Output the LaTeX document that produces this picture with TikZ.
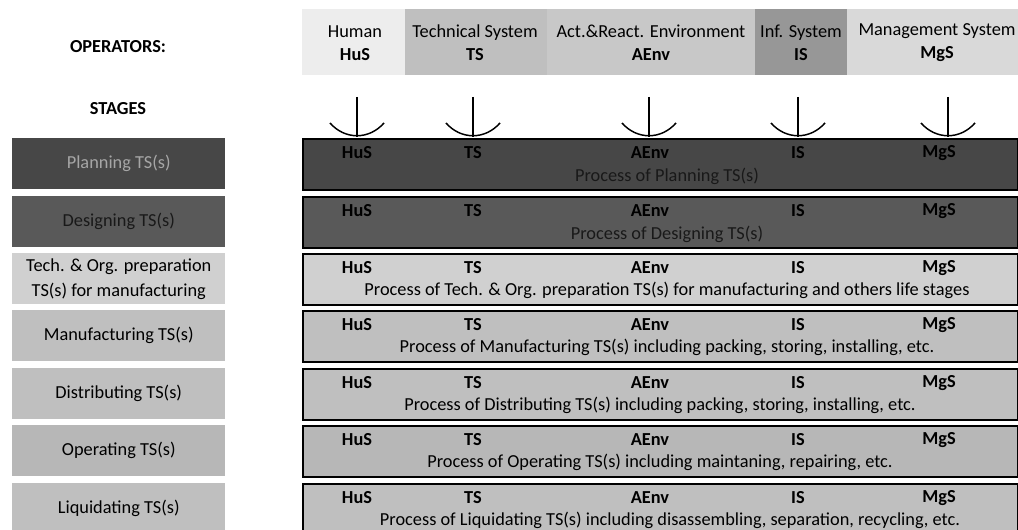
\documentclass[tikz,border=0pt]{standalone}
\usepackage{fontspec}
\setmainfont{Carlito}
\definecolor{humfill}{HTML}{EDEDED}
\definecolor{tsfill}{HTML}{BFBFBF}
\definecolor{aenvfill}{HTML}{C8C8C8}
\definecolor{isfill}{HTML}{979797}
\definecolor{mgsfill}{HTML}{D9D9D9}
\definecolor{plangray}{HTML}{474747}
\definecolor{designgray}{HTML}{595959}
\definecolor{techgray}{HTML}{D0D0D0}
\definecolor{rowgray}{HTML}{BFBFBF}
\definecolor{opgray}{HTML}{B7B7B7}
\begin{document}
\begin{tikzpicture}[x=0.75pt,y=-0.75pt,
    txt/.style = {font=\fontsize{13.75}{18.75}\selectfont, inner sep=0pt, align=center},
    headtxt/.style = {font=\fontsize{13.75}{17.25}\selectfont, inner sep=0pt, align=center},
    headbox/.style = {anchor=north west, inner sep=0pt, minimum height=49.5pt},
    stagebox/.style = {anchor=north west, inner sep=0pt, minimum width=159.75pt, minimum height=38.25pt, txt},
    procbox/.style = {anchor=north west, inner sep=0pt, minimum width=536.25pt, minimum height=38.25pt, draw=black, line width=1.5pt},
    oplabel/.style = {txt, font=\fontsize{13.75}{18.75}\selectfont\bfseries},
    stem/.style = {line width=1.1pt}]
    \useasboundingbox (0,0) rectangle (1018,530);

    % operators header
    \node [oplabel] (operators) at (118,47) {OPERATORS:};
    \node [oplabel] (stages) at (118,109) {STAGES};

    \node [headbox, fill=humfill, minimum width=77.25pt] (hbhus) at (302,9) {};
    \node [headbox, fill=tsfill, minimum width=106.5pt] (hbts) at (405,9) {};
    \node [headbox, fill=aenvfill, minimum width=156pt] (hbaenv) at (547,9) {};
    \node [headbox, fill=isfill, minimum width=69pt] (hbis) at (755,9) {};
    \node [headbox, fill=mgsfill, minimum width=130pt] (hbmgs) at (847,9) {};

    \node [headtxt] (ophus) at (355,43) {Human\\\textbf{HuS}};
    \node [headtxt] (opts) at (475,43) {Technical System\\\textbf{TS}};
    \node [headtxt] (opaenv) at (651,43) {Act.\&React. Environment\\\textbf{AEnv}};
    \node [headtxt] (opis) at (801,43) {Inf. System\\\textbf{IS}};
    \node [headtxt] (opmgs) at (937,43) {Management System\\\textbf{MgS}};

    % stages
    \node [stagebox, fill=plangray, text=black!35] (splan) at (12,138) {Planning TS(s)};
    \node [stagebox, fill=designgray, text=black!90] (sdesign) at (12,196) {Designing TS(s)};
    \node [stagebox, fill=techgray] (stech) at (12,253) {Tech. \& Org. preparation\\TS(s) for manufacturing};
    \node [stagebox, fill=rowgray] (smanu) at (12,310) {Manufacturing TS(s)};
    \node [stagebox, fill=rowgray] (sdistr) at (12,368) {Distributing TS(s)};
    \node [stagebox, fill=opgray] (soper) at (12,425) {Operating TS(s)};
    \node [stagebox, fill=rowgray] (sliqu) at (12,483) {Liquidating TS(s)};

    % processes
    \node [procbox, fill=plangray] (pplan) at (302,138) {};
    \node [procbox, fill=designgray] (pdesign) at (302,196) {};
    \node [procbox, fill=techgray] (ptech) at (302,253) {};
    \node [procbox, fill=rowgray] (pmanu) at (302,310) {};
    \node [procbox, fill=rowgray] (pdistr) at (302,368) {};
    \node [procbox, fill=opgray] (poper) at (302,425) {};
    \node [procbox, fill=rowgray] (pliqu) at (302,483) {};

    \foreach \y/\r in {138/plan,196/design,253/tech,310/manu,368/distr,425/oper,483/liqu} {
        \node [oplabel] (\r-hus) at (357,\y+15) {HuS};
        \node [oplabel] (\r-ts) at (473,\y+15) {TS};
        \node [oplabel] (\r-aenv) at (650,\y+15) {AEnv};
        \node [oplabel] (\r-is) at (798,\y+15) {IS};
        \node [oplabel] (\r-mgs) at (939,\y+15) {MgS};
    }

    \node [txt, text=black!90] (tplan) at (667,176) {Process of Planning TS(s)};
    \node [txt, text=black!90] (tdesign) at (667,234) {Process of Designing TS(s)};
    \node [txt] (ttech) at (667,290) {Process of Tech. \& Org. preparation TS(s) for manufacturing and others life stages};
    \node [txt] (tmanu) at (667,347) {Process of Manufacturing TS(s) including packing, storing, installing, etc.};
    \node [txt] (tdistr) at (660,405) {Process of Distributing TS(s) including packing, storing, installing, etc.};
    \node [txt] (toper) at (660,462) {Process of Operating TS(s) including maintaning, repairing, etc.};
    \node [txt] (tliqu) at (670,520) {Process of Liquidating TS(s) including disassembling, separation, recycling, etc.};

    % operator inputs
    \foreach \x/\n in {357/hus,473/ts,649/aenv,798/is,948/mgs} {
        \coordinate (\n-top) at (\x,97);
        \coordinate (\n-bot) at (\x,137);
        \draw [stem] (\n-top) -- (\n-bot);
        \draw [stem] (\x-27,123) .. controls (\x-12,140) and (\x+12,140) .. (\x+27,123);
    }
\end{tikzpicture}
\end{document}
